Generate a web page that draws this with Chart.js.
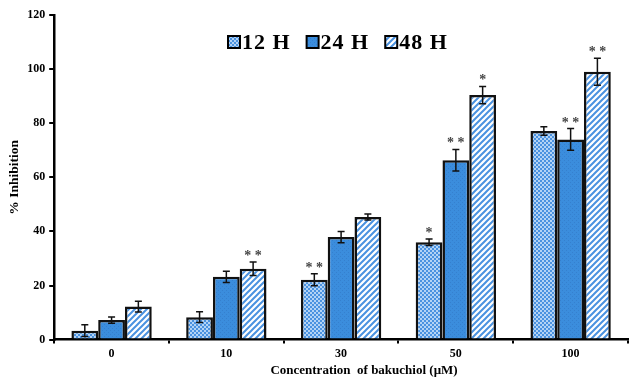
<!DOCTYPE html>
<html><head><meta charset="utf-8">
<script src="https://cdn.jsdelivr.net/npm/chart.js@4"></script>
<style>html,body{margin:0;padding:0;background:#fff;}#wrap{width:630px;height:378px;position:relative;}</style>
</head><body><div id="wrap"><canvas id="c" width="630" height="378"></canvas></div>
<script>
const categories = ['0','10','30','50','100'];
const seriesNames = ['12 H','24 H','48 H'];
const values12 = [3.3, 8.3, 22.1, 36.0, 77.1];
const values24 = [7.2, 23.2, 37.9, 66.3, 74.0];
const values48 = [12.2, 26.2, 45.3, 90.4, 99.0];
const err12 = [2.2, 2.0, 2.2, 1.2, 1.6];
const err24 = [1.2, 2.1, 2.1, 4.0, 4.0];
const err48 = [2.0, 2.5, 1.1, 3.2, 5.0];
const stars12 = ['', '', '**', '*', ''];
const stars24 = ['', '', '', '**', '**'];
const stars48 = ['', '**', '', '*', '**'];
const yTicks = [0,20,40,60,80,100,120];
const xTitle = 'Concentration  of bakuchiol (μM)';

const SERIF = '"Liberation Serif","Times New Roman",serif';

function makePattern(kind){
  const c = document.createElement('canvas');
  const x = c.getContext('2d');
  if(kind==='check'){
    c.width=4;c.height=4;
    x.fillStyle='#ffffff';x.fillRect(0,0,4,4);
    x.fillStyle='#4a92e0';
    x.fillRect(0,0,2,2);x.fillRect(2,2,2,2);
    x.fillStyle='#b3d3f5';
    x.fillRect(2,0,2,2);x.fillRect(0,2,2,2);
  } else if(kind==='solid'){
    c.width=4;c.height=4;
    x.fillStyle='#3b8ddd';x.fillRect(0,0,4,4);
    x.fillStyle='#3580cf';x.fillRect(0,0,1,1);x.fillRect(2,2,1,1);
  } else {
    c.width=6;c.height=6;
    x.fillStyle='#ffffff';x.fillRect(0,0,6,6);
    x.strokeStyle='#4a92e0';x.lineWidth=2;
    x.beginPath();
    for(let k=-2;k<=2;k++){x.moveTo(k*6-1,7);x.lineTo(k*6+7,-1);}
    x.stroke();
  }
  return document.getElementById('c').getContext('2d').createPattern(c,'repeat');
}
const pats=[makePattern('check'),makePattern('solid'),makePattern('stripe')];
const errs=[err12,err24,err48];
const stars=[stars12,stars24,stars48];

const extras = {
  id:'extras',
  afterDatasetsDraw(chart){
    const ctx=chart.ctx; const ys=chart.scales.y;
    ctx.save();
    chart.data.datasets.forEach((ds,di)=>{
      const meta=chart.getDatasetMeta(di);
      meta.data.forEach((bar,i)=>{
        const v=ds.data[i], e=errs[di][i];
        const x=bar.x, yt=ys.getPixelForValue(v+e), yb=ys.getPixelForValue(v-e);
        ctx.strokeStyle='#111';ctx.lineWidth=1.5;
        ctx.beginPath();
        ctx.moveTo(x,yt);ctx.lineTo(x,yb);
        ctx.moveTo(x-3.5,yt);ctx.lineTo(x+3.5,yt);
        ctx.moveTo(x-3.5,yb);ctx.lineTo(x+3.5,yb);
        ctx.stroke();
        const s=stars[di][i];
        if(s){
          ctx.fillStyle='#444';ctx.font='bold 14px '+SERIF;
          ctx.textAlign='center';ctx.textBaseline='alphabetic';
          ctx.fillText(s.split('').join(' '),x,yt-2);
        }
      });
    });
    // legend
    ctx.font='bold 22px '+SERIF;ctx.textBaseline='middle';ctx.textAlign='left';
    try{ctx.letterSpacing='1px';}catch(e){}
    let lx=228; const ly=42;
    seriesNames.forEach((n,i)=>{
      ctx.fillStyle=pats[i];ctx.fillRect(lx,ly-6,12,12);
      ctx.strokeStyle='#000';ctx.lineWidth=2;ctx.strokeRect(lx,ly-6,12,12);
      ctx.fillStyle='#000';ctx.fillText(n,lx+14,ly+1);
      lx+=14+ctx.measureText(n).width+16;
    });
    try{ctx.letterSpacing='0px';}catch(e){}
    // x-axis title
    ctx.font='bold 13px '+SERIF;ctx.textAlign='center';ctx.textBaseline='middle';
    ctx.fillStyle='#000';
    ctx.fillText(xTitle,364,371);
    ctx.restore();
  }
};

new Chart(document.getElementById('c'),{
  type:'bar',
  data:{labels:categories,datasets:[
    {label:seriesNames[0],data:values12,backgroundColor:pats[0],borderColor:'#111',borderWidth:2.5},
    {label:seriesNames[1],data:values24,backgroundColor:pats[1],borderColor:'#111',borderWidth:2.5},
    {label:seriesNames[2],data:values48,backgroundColor:pats[2],borderColor:'#111',borderWidth:2.5}
  ]},
  options:{
    responsive:false,animation:false,
    layout:{padding:{left:6,right:2,top:15,bottom:14}},
    plugins:{legend:{display:false},tooltip:{enabled:false}},
    datasets:{bar:{categoryPercentage:0.7,barPercentage:1.0}},
    scales:{
      x:{
        grid:{display:true,drawOnChartArea:false,offset:true,tickLength:4,color:'#000',lineWidth:2},
        border:{display:true,color:'#000',width:2.5},
        ticks:{color:'#000',font:{family:SERIF,weight:'bold',size:12},padding:3},
        title:{display:false}
      },
      y:{
        min:0,max:120,
        afterBuildTicks(axis){axis.ticks=yTicks.map(v=>({value:v}));},
        grid:{display:true,drawOnChartArea:false,tickLength:5,color:'#000',lineWidth:2},
        border:{display:true,color:'#000',width:2.5},
        ticks:{color:'#000',font:{family:SERIF,weight:'bold',size:12},padding:4},
        title:{display:true,text:'% Inhibition',color:'#000',font:{family:SERIF,weight:'bold',size:13.5},padding:{top:0,bottom:1}}
      }
    }
  },
  plugins:[extras]
});
</script></body></html>
